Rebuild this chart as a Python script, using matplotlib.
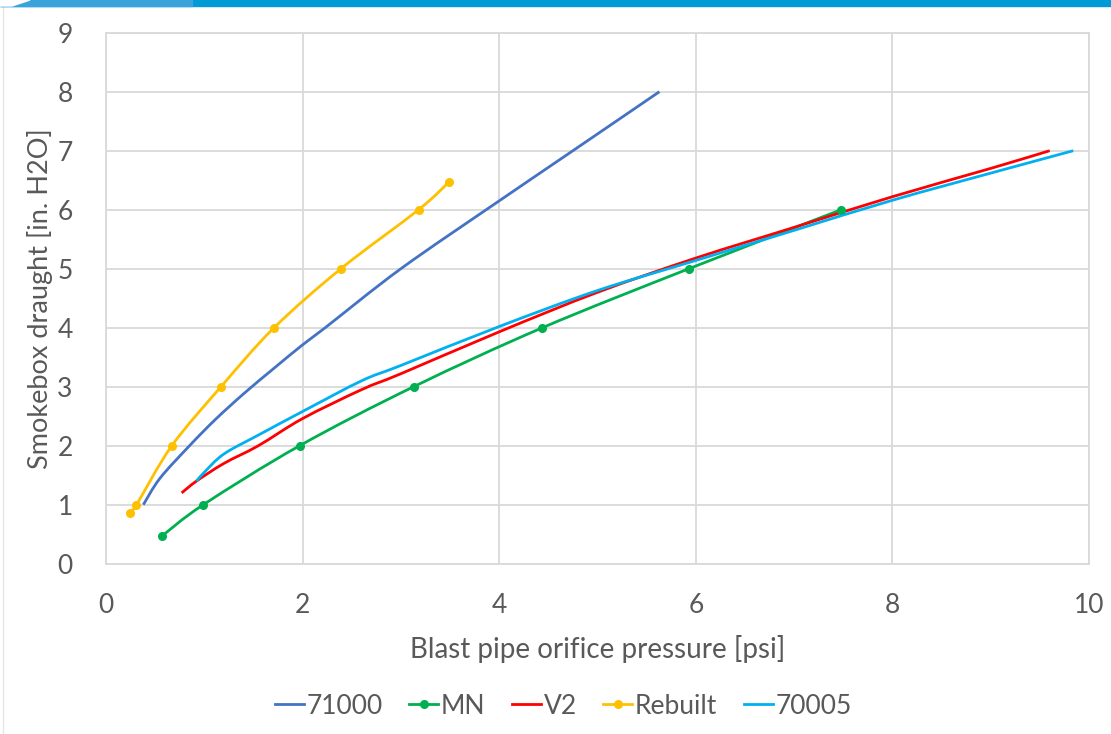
import matplotlib
matplotlib.use("Agg")
import matplotlib.pyplot as plt
from matplotlib.patches import Rectangle, Polygon, PathPatch
from matplotlib.path import Path
from matplotlib.lines import Line2D

# ---- data ----
x_71000 = [0.38, 0.55, 0.85, 1.11, 1.4, 1.7, 2.0, 2.23, 3.0, 4.0, 4.75, 5.63]
y_71000 = [1.0, 1.45, 2.0, 2.44, 2.88, 3.3, 3.71, 4.0, 5.0, 6.15, 7.0, 8.0]

x_mn = [0.57, 0.99, 1.97, 3.13, 4.44, 5.93, 7.48]
y_mn = [0.47, 1.0, 2.0, 3.0, 4.0, 5.0, 6.0]

x_v2 = [0.77, 0.92, 1.2, 1.55, 2.0, 2.6, 3.0, 4.0, 5.0, 6.0, 7.0, 8.0, 9.0, 9.6]
y_v2 = [1.2, 1.4, 1.7, 2.0, 2.46, 2.95, 3.22, 3.93, 4.6, 5.18, 5.7, 6.22, 6.7, 7.0]

x_rebuilt = [0.24, 0.31, 0.67, 1.17, 1.71, 2.39, 3.18, 3.49]
y_rebuilt = [0.86, 1.0, 2.0, 3.0, 4.0, 5.0, 6.0, 6.47]

x_70005 = [0.92, 1.0, 1.2, 1.55, 2.0, 2.6, 3.0, 4.0, 5.0, 6.0, 7.0, 8.0, 9.0, 9.84]
y_70005 = [1.4, 1.55, 1.86, 2.18, 2.58, 3.1, 3.36, 4.02, 4.63, 5.14, 5.65, 6.16, 6.62, 7.0]

series_names = ["71000", "MN", "V2", "Rebuilt", "70005"]
x_ticks = [0, 2, 4, 6, 8, 10]
y_ticks = [0, 1, 2, 3, 4, 5, 6, 7, 8, 9]

FONT = ["Lato", "DejaVu Sans"]
plt.rcParams["font.family"] = FONT
TXT = "#595959"
GRID = "#D9D9D9"


def smooth_path(xs, ys):
    """Excel-style smoothed line: cubic Bezier segments (Catmull-Rom control points)."""
    pts = list(zip(xs, ys))
    n = len(pts)
    verts = [pts[0]]
    codes = [Path.MOVETO]
    for i in range(n - 1):
        p0 = pts[i - 1] if i > 0 else pts[i]
        p1 = pts[i]
        p2 = pts[i + 1]
        p3 = pts[i + 2] if i + 2 < n else pts[i + 1]
        c1 = (p1[0] + (p2[0] - p0[0]) / 6, p1[1] + (p2[1] - p0[1]) / 6)
        c2 = (p2[0] - (p3[0] - p1[0]) / 6, p2[1] - (p3[1] - p1[1]) / 6)
        verts += [c1, c2, p2]
        codes += [Path.CURVE4] * 3
    return Path(verts, codes)


fig = plt.figure(figsize=(11.11, 7.34), dpi=100)
ax = fig.add_axes([106 / 1111, 1 - 563.7 / 734, (1089 - 106) / 1111, (563.7 - 32.7) / 734])

lw = 2.0
specs = [
    (x_71000, y_71000, "#4472C4", False),
    (x_mn, y_mn, "#00B050", True),
    (x_v2, y_v2, "#FF0000", False),
    (x_rebuilt, y_rebuilt, "#FFC000", True),
    (x_70005, y_70005, "#00B0F0", False),
]
handles = []
for (xs, ys, col, mk), name in zip(specs, series_names):
    ax.add_patch(PathPatch(smooth_path(xs, ys), fill=False, edgecolor=col, lw=lw,
                           capstyle="butt", joinstyle="round", zorder=3))
    if mk:
        ax.plot(xs, ys, ls="none", marker="o", ms=5.5, color=col, zorder=4)
    handles.append(Line2D([], [], color=col, lw=lw, marker="o" if mk else None, ms=5.5,
                          label=name))

ax.set_xlim(0, 10)
ax.set_ylim(0, 9)
ax.set_xticks(x_ticks)
ax.set_yticks(y_ticks)
ax.grid(True, color=GRID, lw=1.3, zorder=0)
for s in ax.spines.values():
    s.set_color(GRID)
    s.set_linewidth(1.3)
ax.tick_params(length=0, labelsize=19, colors=TXT, pad=24)
ax.tick_params(axis="x", pad=21)
ax.set_xlabel("Blast pipe orifice pressure [psi]", fontsize=20, color=TXT, labelpad=12)
ax.set_ylabel("Smokebox draught [in. H2O]", fontsize=19.5, color=TXT, labelpad=3)

fig.legend(handles=handles, loc="center", bbox_to_anchor=(0.507, 1 - 706 / 734), ncol=5,
           frameon=False, fontsize=19, handlelength=1.1, handletextpad=0.1,
           columnspacing=1.0, labelcolor=TXT)

# header bar and frame
fig.add_artist(Rectangle((0, 1 - 6 / 734), 1, 6 / 734, transform=fig.transFigure,
                         color="#009AD6", zorder=10))
fig.add_artist(Rectangle((0, 1 - 6 / 734), 192 / 1111, 6 / 734, transform=fig.transFigure,
                         color="#3AA3DB", zorder=11))
fig.add_artist(Polygon([(0, 1), (30 / 1111, 1), (12 / 1111, 1 - 6 / 734), (0, 1 - 6 / 734)],
                       closed=True, transform=fig.transFigure, color="white", zorder=12))
fig.add_artist(Line2D([3 / 1111, 3 / 1111], [0, 1 - 6 / 734], transform=fig.transFigure,
                      color="#E6E6E6", lw=1))

fig.savefig("out.png", dpi=100)
